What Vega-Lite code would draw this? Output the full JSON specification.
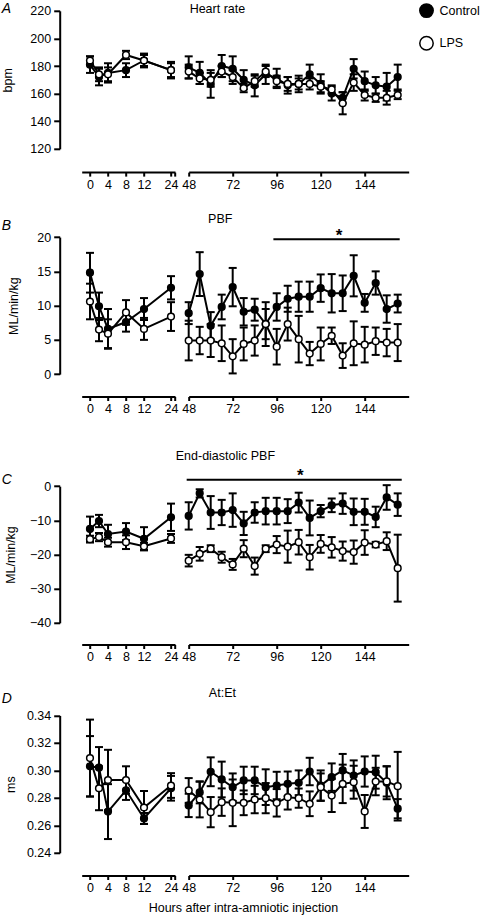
{
"$schema": "https://vega.github.io/schema/vega-lite/v6.json",
"padding": {"left": 1.7, "top": 1.8, "right": 0, "bottom": 0},
"bounds": "flush",
"align": "each",
"columns": 2,
"spacing": {"row": 60, "column": 13},
"datasets": {
"dA": [
{"t":0,"g":"Control","m":181,"e":6},{"t":2,"g":"Control","m":172,"e":6},{"t":4,"g":"Control","m":175,"e":7},{"t":8,"g":"Control","m":177,"e":5},{"t":12,"g":"Control","m":184,"e":5},{"t":24,"g":"Control","m":177,"e":6},
{"t":48,"g":"Control","m":179,"e":8},{"t":54,"g":"Control","m":175,"e":8},{"t":60,"g":"Control","m":167,"e":10},{"t":66,"g":"Control","m":180,"e":8},{"t":72,"g":"Control","m":178,"e":9},{"t":78,"g":"Control","m":170,"e":7},{"t":84,"g":"Control","m":166,"e":8},{"t":90,"g":"Control","m":174,"e":7},{"t":96,"g":"Control","m":171,"e":7},{"t":102,"g":"Control","m":166,"e":6},{"t":108,"g":"Control","m":167,"e":6},{"t":114,"g":"Control","m":174,"e":7},{"t":120,"g":"Control","m":167,"e":7},{"t":126,"g":"Control","m":160,"e":5},{"t":132,"g":"Control","m":157,"e":4},{"t":138,"g":"Control","m":178,"e":7},{"t":144,"g":"Control","m":169,"e":7},{"t":150,"g":"Control","m":166,"e":6},{"t":156,"g":"Control","m":165,"e":10},{"t":162,"g":"Control","m":172,"e":9},
{"t":0,"g":"LPS","m":184,"e":3},{"t":2,"g":"LPS","m":174,"e":5},{"t":4,"g":"LPS","m":174,"e":5},{"t":8,"g":"LPS","m":188,"e":3},{"t":12,"g":"LPS","m":184,"e":4},{"t":24,"g":"LPS","m":177,"e":5},
{"t":48,"g":"LPS","m":176,"e":5},{"t":54,"g":"LPS","m":171,"e":4},{"t":60,"g":"LPS","m":170,"e":5},{"t":66,"g":"LPS","m":176,"e":4},{"t":72,"g":"LPS","m":172,"e":5},{"t":78,"g":"LPS","m":164,"e":3},{"t":84,"g":"LPS","m":169,"e":4},{"t":90,"g":"LPS","m":176,"e":4},{"t":96,"g":"LPS","m":169,"e":4},{"t":102,"g":"LPS","m":167,"e":5},{"t":108,"g":"LPS","m":167,"e":4},{"t":114,"g":"LPS","m":167,"e":4},{"t":120,"g":"LPS","m":165,"e":4},{"t":126,"g":"LPS","m":163,"e":3},{"t":132,"g":"LPS","m":153,"e":8},{"t":138,"g":"LPS","m":168,"e":6},{"t":144,"g":"LPS","m":159,"e":4},{"t":150,"g":"LPS","m":157,"e":3},{"t":156,"g":"LPS","m":157,"e":5},{"t":162,"g":"LPS","m":159,"e":3}
],
"dB": [
{"t":0,"g":"Control","m":14.8,"e":2.9},{"t":2,"g":"Control","m":9.9,"e":2},{"t":4,"g":"Control","m":6.6,"e":2.9},{"t":8,"g":"Control","m":7.6,"e":1.4},{"t":12,"g":"Control","m":9.5,"e":1.6},{"t":24,"g":"Control","m":12.6,"e":1.7},
{"t":48,"g":"Control","m":8.9,"e":1.6},{"t":54,"g":"Control","m":14.6,"e":3.2},{"t":60,"g":"Control","m":7.05,"e":2},{"t":66,"g":"Control","m":9.8,"e":1.8},{"t":72,"g":"Control","m":12.7,"e":2.8},{"t":78,"g":"Control","m":9.1,"e":2},{"t":84,"g":"Control","m":9.4,"e":1.6},{"t":90,"g":"Control","m":7.3,"e":3.2},{"t":96,"g":"Control","m":9.8,"e":2},{"t":102,"g":"Control","m":11,"e":1.9},{"t":108,"g":"Control","m":11.3,"e":2.2},{"t":114,"g":"Control","m":11.3,"e":2.2},{"t":120,"g":"Control","m":12.55,"e":2},{"t":126,"g":"Control","m":11.8,"e":2.8},{"t":132,"g":"Control","m":11.8,"e":2.6},{"t":138,"g":"Control","m":14.35,"e":3},{"t":144,"g":"Control","m":10.4,"e":1.3},{"t":150,"g":"Control","m":13.3,"e":1.7},{"t":156,"g":"Control","m":9.5,"e":2},{"t":162,"g":"Control","m":10.3,"e":1.3},
{"t":0,"g":"LPS","m":10.6,"e":2.6},{"t":2,"g":"LPS","m":6.5,"e":1.7},{"t":4,"g":"LPS","m":5.9,"e":2.1},{"t":8,"g":"LPS","m":9.0,"e":1.8},{"t":12,"g":"LPS","m":6.6,"e":1.6},{"t":24,"g":"LPS","m":8.4,"e":2.1},
{"t":48,"g":"LPS","m":4.9,"e":2.9},{"t":54,"g":"LPS","m":4.9,"e":2},{"t":60,"g":"LPS","m":4.9,"e":2.4},{"t":66,"g":"LPS","m":4.5,"e":2.6},{"t":72,"g":"LPS","m":2.6,"e":2.5},{"t":78,"g":"LPS","m":4.4,"e":2.4},{"t":84,"g":"LPS","m":4.9,"e":2.2},{"t":90,"g":"LPS","m":7.3,"e":2.2},{"t":96,"g":"LPS","m":4.0,"e":2.6},{"t":102,"g":"LPS","m":7.3,"e":2.4},{"t":108,"g":"LPS","m":5.1,"e":3.4},{"t":114,"g":"LPS","m":3.0,"e":1.7},{"t":120,"g":"LPS","m":4.4,"e":2.4},{"t":126,"g":"LPS","m":5.6,"e":1.2},{"t":132,"g":"LPS","m":2.7,"e":1.8},{"t":138,"g":"LPS","m":4.5,"e":3.2},{"t":144,"g":"LPS","m":4.3,"e":2.6},{"t":150,"g":"LPS","m":4.8,"e":2},{"t":156,"g":"LPS","m":4.6,"e":2},{"t":162,"g":"LPS","m":4.6,"e":2.7}
],
"dC": [
{"t":0,"g":"Control","m":-12.5,"e":3.6},{"t":2,"g":"Control","m":-10.2,"e":1.8},{"t":4,"g":"Control","m":-14.0,"e":2.7},{"t":8,"g":"Control","m":-13.3,"e":2.5},{"t":12,"g":"Control","m":-15.4,"e":3.4},{"t":24,"g":"Control","m":-9.1,"e":4},
{"t":48,"g":"Control","m":-8.7,"e":4},{"t":54,"g":"Control","m":-2.1,"e":1.2},{"t":60,"g":"Control","m":-7.7,"e":4.8},{"t":66,"g":"Control","m":-7.7,"e":3.7},{"t":72,"g":"Control","m":-7.0,"e":4.9},{"t":78,"g":"Control","m":-10.9,"e":3.4},{"t":84,"g":"Control","m":-7.7,"e":3},{"t":90,"g":"Control","m":-7.3,"e":3.9},{"t":96,"g":"Control","m":-7.3,"e":3.9},{"t":102,"g":"Control","m":-7.3,"e":3.5},{"t":108,"g":"Control","m":-4.8,"e":2.9},{"t":114,"g":"Control","m":-9.3,"e":5.1},{"t":120,"g":"Control","m":-7.3,"e":1.8},{"t":126,"g":"Control","m":-5.6,"e":2},{"t":132,"g":"Control","m":-5.1,"e":3},{"t":138,"g":"Control","m":-7.5,"e":3.9},{"t":144,"g":"Control","m":-7.5,"e":3.8},{"t":150,"g":"Control","m":-9.0,"e":3},{"t":156,"g":"Control","m":-3.3,"e":3.6},{"t":162,"g":"Control","m":-5.4,"e":3.3},
{"t":0,"g":"LPS","m":-15.5,"e":1},{"t":2,"g":"LPS","m":-14.9,"e":1.2},{"t":4,"g":"LPS","m":-16.4,"e":1.3},{"t":8,"g":"LPS","m":-16.4,"e":2},{"t":12,"g":"LPS","m":-17.6,"e":1},{"t":24,"g":"LPS","m":-15.3,"e":1.3},
{"t":48,"g":"LPS","m":-21.8,"e":1.7},{"t":54,"g":"LPS","m":-19.8,"e":2},{"t":60,"g":"LPS","m":-18.3,"e":1},{"t":66,"g":"LPS","m":-20.8,"e":1.6},{"t":72,"g":"LPS","m":-22.9,"e":1.6},{"t":78,"g":"LPS","m":-18.3,"e":2.5},{"t":84,"g":"LPS","m":-23.4,"e":2.5},{"t":90,"g":"LPS","m":-18.3,"e":1},{"t":96,"g":"LPS","m":-17.1,"e":2.5},{"t":102,"g":"LPS","m":-17.7,"e":4.7},{"t":108,"g":"LPS","m":-16.4,"e":3.6},{"t":114,"g":"LPS","m":-20.8,"e":3.6},{"t":120,"g":"LPS","m":-16.9,"e":2.6},{"t":126,"g":"LPS","m":-17.9,"e":3},{"t":132,"g":"LPS","m":-19.0,"e":2.8},{"t":138,"g":"LPS","m":-19.3,"e":3.4},{"t":144,"g":"LPS","m":-16.5,"e":3.6},{"t":150,"g":"LPS","m":-17.1,"e":0.8},{"t":156,"g":"LPS","m":-16.1,"e":2.6},{"t":162,"g":"LPS","m":-24.0,"e":9.8}
],
"dD": [
{"t":0,"g":"Control","m":0.303,"e":0.022},{"t":2,"g":"Control","m":0.302,"e":0.015},{"t":4,"g":"Control","m":0.270,"e":0.020},{"t":8,"g":"Control","m":0.2855,"e":0.007},{"t":12,"g":"Control","m":0.265,"e":0.004},{"t":24,"g":"Control","m":0.287,"e":0.009},
{"t":48,"g":"Control","m":0.2745,"e":0.0085},{"t":54,"g":"Control","m":0.284,"e":0.008},{"t":60,"g":"Control","m":0.299,"e":0.0105},{"t":66,"g":"Control","m":0.2934,"e":0.013},{"t":72,"g":"Control","m":0.2878,"e":0.01},{"t":78,"g":"Control","m":0.2927,"e":0.01},{"t":84,"g":"Control","m":0.2927,"e":0.01},{"t":90,"g":"Control","m":0.2878,"e":0.013},{"t":96,"g":"Control","m":0.289,"e":0.01},{"t":102,"g":"Control","m":0.2902,"e":0.009},{"t":108,"g":"Control","m":0.291,"e":0.009},{"t":114,"g":"Control","m":0.2992,"e":0.01},{"t":120,"g":"Control","m":0.289,"e":0.011},{"t":126,"g":"Control","m":0.2951,"e":0.01},{"t":132,"g":"Control","m":0.300,"e":0.012},{"t":138,"g":"Control","m":0.2963,"e":0.011},{"t":144,"g":"Control","m":0.2992,"e":0.011},{"t":150,"g":"Control","m":0.2987,"e":0.012},{"t":156,"g":"Control","m":0.291,"e":0.012},{"t":162,"g":"Control","m":0.2721,"e":0.007},
{"t":0,"g":"LPS","m":0.309,"e":0.028},{"t":2,"g":"LPS","m":0.287,"e":0.016},{"t":4,"g":"LPS","m":0.293,"e":0.022},{"t":8,"g":"LPS","m":0.293,"e":0.010},{"t":12,"g":"LPS","m":0.273,"e":0.012},{"t":24,"g":"LPS","m":0.289,"e":0.009},
{"t":48,"g":"LPS","m":0.2854,"e":0.009},{"t":54,"g":"LPS","m":0.2788,"e":0.013},{"t":60,"g":"LPS","m":0.2696,"e":0.011},{"t":66,"g":"LPS","m":0.2769,"e":0.01},{"t":72,"g":"LPS","m":0.2764,"e":0.017},{"t":78,"g":"LPS","m":0.2764,"e":0.009},{"t":84,"g":"LPS","m":0.2788,"e":0.01},{"t":90,"g":"LPS","m":0.2798,"e":0.011},{"t":96,"g":"LPS","m":0.2764,"e":0.01},{"t":102,"g":"LPS","m":0.2805,"e":0.009},{"t":108,"g":"LPS","m":0.2798,"e":0.007},{"t":114,"g":"LPS","m":0.2757,"e":0.009},{"t":120,"g":"LPS","m":0.2878,"e":0.01},{"t":126,"g":"LPS","m":0.2817,"e":0.012},{"t":132,"g":"LPS","m":0.2902,"e":0.014},{"t":138,"g":"LPS","m":0.2914,"e":0.012},{"t":144,"g":"LPS","m":0.2701,"e":0.012},{"t":150,"g":"LPS","m":0.2919,"e":0.01},{"t":156,"g":"LPS","m":0.292,"e":0.011},{"t":162,"g":"LPS","m":0.2885,"e":0.025}
],
"sig": [
{"p":"B","x1":94.2,"x2":163.1,"y":19.7,"sx":130,"sy":19.5,"s":"*"},
{"p":"C","x1":46.9,"x2":164.2,"y":1.9,"sx":108.9,"sy":1.4,"s":"*"}
]
},
"concat": [
{
"width": 93.3, "height": 138,
"title": {"text": "A", "anchor": "start", "dx": -80, "offset": -11.15, "fontSize": 14, "fontStyle": "italic"},
"encoding": {
"x": {"field": "t", "type": "quantitative", "scale": {"domain": [-1.84, 12, 24, 25.8], "range": [0, 62.3, 89.3, 93.3], "nice": false, "zero": false}, "axis": {"values": [0, 4, 8, 12, 24, 25.8], "labelExpr": "datum.value > 25 ? '' : datum.label", "offset": 23.3, "title": null}},
"y": {"field": "m", "type": "quantitative", "scale": {"domain": [120, 220], "range": [138, 0], "nice": false, "zero": false}, "axis": {"values": [120, 140, 160, 180, 200, 220], "title": "bpm", "titlePadding": 15}}
},
"layer": [
{"data": {"name": "dA"}, "transform": [{"filter": "datum.t < 30"}], "mark": {"type": "errorbar", "ticks": {"thickness": 2, "opacity": 1, "color": "black"}, "rule": {"strokeWidth": 2, "opacity": 1, "color": "black"}, "size": 8, "thickness": 2, "color": "black", "opacity": 1}, "encoding": {"yError": {"field": "e"}}},
{"data": {"name": "dA"}, "transform": [{"filter": "datum.t < 30"}], "mark": {"type": "line", "color": "black", "strokeWidth": 2}, "encoding": {"detail": {"field": "g"}}},
{"data": {"name": "dA"}, "transform": [{"filter": "datum.t < 30"}], "mark": {"type": "point", "shape": "circle", "size": 45, "stroke": "black", "strokeWidth": 1.5, "opacity": 1}, "encoding": {"fill": {"field": "g", "type": "nominal", "scale": {"domain": ["Control", "LPS"], "range": ["black", "white"]}, "legend": {"title": null, "orient": "none", "legendX": 337.3, "legendY": -7.7}}}}
]
},
{
"width": 220, "height": 138,
"title": {"text": "Heart rate", "anchor": "middle", "dx": -81.3, "offset": -4.6},
"encoding": {
"x": {"field": "t", "type": "quantitative", "scale": {"domain": [48, 168], "nice": false, "zero": false}, "axis": {"values": [48, 72, 96, 120, 144], "offset": 23.3, "title": null}},
"y": {"field": "m", "type": "quantitative", "scale": {"domain": [120, 220], "range": [138, 0], "nice": false, "zero": false}, "axis": null}
},
"layer": [
{"data": {"name": "dA"}, "transform": [{"filter": "datum.t > 30"}], "mark": {"type": "errorbar", "ticks": {"thickness": 2, "opacity": 1, "color": "black"}, "rule": {"strokeWidth": 2, "opacity": 1, "color": "black"}, "size": 8, "thickness": 2, "color": "black", "opacity": 1}, "encoding": {"yError": {"field": "e"}}},
{"data": {"name": "dA"}, "transform": [{"filter": "datum.t > 30"}], "mark": {"type": "line", "color": "black", "strokeWidth": 2}, "encoding": {"detail": {"field": "g"}}},
{"data": {"name": "dA"}, "transform": [{"filter": "datum.t > 30"}], "mark": {"type": "point", "shape": "circle", "size": 45, "stroke": "black", "strokeWidth": 1.5, "opacity": 1}, "encoding": {"fill": {"field": "g", "type": "nominal", "scale": {"domain": ["Control", "LPS"], "range": ["black", "white"]}, "legend": {"title": null, "orient": "none", "legendX": 337.3, "legendY": -7.7}}}}
]
},
{
"width": 93.3, "height": 165.3,
"title": {"text": "B", "anchor": "start", "dx": -80, "offset": -23.9, "fontSize": 14, "fontStyle": "italic"},
"encoding": {
"x": {"field": "t", "type": "quantitative", "scale": {"domain": [-1.84, 12, 24, 25.8], "range": [0, 62.3, 89.3, 93.3], "nice": false, "zero": false}, "axis": {"values": [0, 4, 8, 12, 24, 25.8], "labelExpr": "datum.value > 25 ? '' : datum.label", "offset": 22.4, "title": null}},
"y": {"field": "m", "type": "quantitative", "scale": {"domain": [0, 20], "range": [165.3, 28.3], "nice": false, "zero": false}, "axis": {"values": [0, 5, 10, 15, 20], "title": "ML/min/kg", "titlePadding": 16}}
},
"layer": [
{"data": {"name": "dB"}, "transform": [{"filter": "datum.t < 30"}], "mark": {"type": "errorbar", "ticks": {"thickness": 2, "opacity": 1, "color": "black"}, "rule": {"strokeWidth": 2, "opacity": 1, "color": "black"}, "size": 8, "thickness": 2, "color": "black", "opacity": 1}, "encoding": {"yError": {"field": "e"}}},
{"data": {"name": "dB"}, "transform": [{"filter": "datum.t < 30"}], "mark": {"type": "line", "color": "black", "strokeWidth": 2}, "encoding": {"detail": {"field": "g"}}},
{"data": {"name": "dB"}, "transform": [{"filter": "datum.t < 30"}], "mark": {"type": "point", "shape": "circle", "size": 45, "stroke": "black", "strokeWidth": 1.5, "opacity": 1}, "encoding": {"fill": {"field": "g", "type": "nominal", "scale": {"domain": ["Control", "LPS"], "range": ["black", "white"]}, "legend": {"title": null, "orient": "none", "legendX": 337.3, "legendY": -7.7}}}}
]
},
{
"width": 220, "height": 165.3,
"title": {"text": "PBF", "anchor": "middle", "dx": -78.5, "offset": -16.3},
"encoding": {
"x": {"field": "t", "type": "quantitative", "scale": {"domain": [48, 168], "nice": false, "zero": false}, "axis": {"values": [48, 72, 96, 120, 144], "offset": 22.4, "title": null}},
"y": {"field": "m", "type": "quantitative", "scale": {"domain": [0, 20], "range": [165.3, 28.3], "nice": false, "zero": false}, "axis": null}
},
"layer": [
{"data": {"name": "dB"}, "transform": [{"filter": "datum.t > 30"}], "mark": {"type": "errorbar", "ticks": {"thickness": 2, "opacity": 1, "color": "black"}, "rule": {"strokeWidth": 2, "opacity": 1, "color": "black"}, "size": 8, "thickness": 2, "color": "black", "opacity": 1}, "encoding": {"yError": {"field": "e"}}},
{"data": {"name": "dB"}, "transform": [{"filter": "datum.t > 30"}], "mark": {"type": "line", "color": "black", "strokeWidth": 2}, "encoding": {"detail": {"field": "g"}}},
{"data": {"name": "dB"}, "transform": [{"filter": "datum.t > 30"}], "mark": {"type": "point", "shape": "circle", "size": 45, "stroke": "black", "strokeWidth": 1.5, "opacity": 1}, "encoding": {"fill": {"field": "g", "type": "nominal", "scale": {"domain": ["Control", "LPS"], "range": ["black", "white"]}, "legend": {"title": null, "orient": "none", "legendX": 337.3, "legendY": -7.7}}}},
{"data": {"name": "sig"}, "transform": [{"filter": "datum.p == 'B'"}], "mark": {"type": "rule", "color": "black", "strokeWidth": 2}, "encoding": {"x": {"field": "x1", "type": "quantitative"}, "x2": {"field": "x2"}, "y": {"field": "y", "type": "quantitative"}}},
{"data": {"name": "sig"}, "transform": [{"filter": "datum.p == 'B'"}], "mark": {"type": "text", "fontSize": 17, "fontWeight": "bold", "baseline": "alphabetic", "color": "black"}, "encoding": {"x": {"field": "sx", "type": "quantitative"}, "y": {"field": "sy", "type": "quantitative"}, "text": {"field": "s"}}}
]
},
{
"width": 93.3, "height": 188,
"title": {"text": "C", "anchor": "start", "dx": -80, "offset": -51.9, "fontSize": 14, "fontStyle": "italic"},
"encoding": {
"x": {"field": "t", "type": "quantitative", "scale": {"domain": [-1.84, 12, 24, 25.8], "range": [0, 62.3, 89.3, 93.3], "nice": false, "zero": false}, "axis": {"values": [0, 4, 8, 12, 24, 25.8], "labelExpr": "datum.value > 25 ? '' : datum.label", "offset": 21.7, "title": null}},
"y": {"field": "m", "type": "quantitative", "scale": {"domain": [-40, 0], "range": [188, 51.4], "nice": false, "zero": false}, "axis": {"values": [-40, -30, -20, -10, 0], "title": "ML/min/kg", "titlePadding": 12}}
},
"layer": [
{"data": {"name": "dC"}, "transform": [{"filter": "datum.t < 30"}], "mark": {"type": "errorbar", "ticks": {"thickness": 2, "opacity": 1, "color": "black"}, "rule": {"strokeWidth": 2, "opacity": 1, "color": "black"}, "size": 8, "thickness": 2, "color": "black", "opacity": 1}, "encoding": {"yError": {"field": "e"}}},
{"data": {"name": "dC"}, "transform": [{"filter": "datum.t < 30"}], "mark": {"type": "line", "color": "black", "strokeWidth": 2}, "encoding": {"detail": {"field": "g"}}},
{"data": {"name": "dC"}, "transform": [{"filter": "datum.t < 30"}], "mark": {"type": "point", "shape": "circle", "size": 45, "stroke": "black", "strokeWidth": 1.5, "opacity": 1}, "encoding": {"fill": {"field": "g", "type": "nominal", "scale": {"domain": ["Control", "LPS"], "range": ["black", "white"]}, "legend": {"title": null, "orient": "none", "legendX": 337.3, "legendY": -7.7}}}}
]
},
{
"width": 220, "height": 188,
"title": {"text": "End-diastolic PBF", "anchor": "middle", "dx": -73.3, "offset": -27.3},
"encoding": {
"x": {"field": "t", "type": "quantitative", "scale": {"domain": [48, 168], "nice": false, "zero": false}, "axis": {"values": [48, 72, 96, 120, 144], "offset": 21.7, "title": null}},
"y": {"field": "m", "type": "quantitative", "scale": {"domain": [-40, 0], "range": [188, 51.4], "nice": false, "zero": false}, "axis": null}
},
"layer": [
{"data": {"name": "dC"}, "transform": [{"filter": "datum.t > 30"}], "mark": {"type": "errorbar", "ticks": {"thickness": 2, "opacity": 1, "color": "black"}, "rule": {"strokeWidth": 2, "opacity": 1, "color": "black"}, "size": 8, "thickness": 2, "color": "black", "opacity": 1}, "encoding": {"yError": {"field": "e"}}},
{"data": {"name": "dC"}, "transform": [{"filter": "datum.t > 30"}], "mark": {"type": "line", "color": "black", "strokeWidth": 2}, "encoding": {"detail": {"field": "g"}}},
{"data": {"name": "dC"}, "transform": [{"filter": "datum.t > 30"}], "mark": {"type": "point", "shape": "circle", "size": 45, "stroke": "black", "strokeWidth": 1.5, "opacity": 1}, "encoding": {"fill": {"field": "g", "type": "nominal", "scale": {"domain": ["Control", "LPS"], "range": ["black", "white"]}, "legend": {"title": null, "orient": "none", "legendX": 337.3, "legendY": -7.7}}}},
{"data": {"name": "sig"}, "transform": [{"filter": "datum.p == 'C'"}], "mark": {"type": "rule", "color": "black", "strokeWidth": 2}, "encoding": {"x": {"field": "x1", "type": "quantitative"}, "x2": {"field": "x2"}, "y": {"field": "y", "type": "quantitative"}}},
{"data": {"name": "sig"}, "transform": [{"filter": "datum.p == 'C'"}], "mark": {"type": "text", "fontSize": 17, "fontWeight": "bold", "baseline": "alphabetic", "color": "black"}, "encoding": {"x": {"field": "sx", "type": "quantitative"}, "y": {"field": "sy", "type": "quantitative"}, "text": {"field": "s"}}}
]
},
{
"width": 93.3, "height": 170,
"title": {"text": "D", "anchor": "start", "dx": -80, "offset": -23.3, "fontSize": 14, "fontStyle": "italic"},
"encoding": {
"x": {"field": "t", "type": "quantitative", "scale": {"domain": [-1.84, 12, 24, 25.8], "range": [0, 62.3, 89.3, 93.3], "nice": false, "zero": false}, "axis": {"values": [0, 4, 8, 12, 24, 25.8], "labelExpr": "datum.value > 25 ? '' : datum.label", "offset": 22.7, "title": null}},
"y": {"field": "m", "type": "quantitative", "scale": {"domain": [0.24, 0.34], "range": [170, 32.7], "nice": false, "zero": false}, "axis": {"values": [0.24, 0.26, 0.28, 0.30, 0.32, 0.34], "format": ".2f", "title": "ms", "titlePadding": 9}}
},
"layer": [
{"data": {"name": "dD"}, "transform": [{"filter": "datum.t < 30"}], "mark": {"type": "errorbar", "ticks": {"thickness": 2, "opacity": 1, "color": "black"}, "rule": {"strokeWidth": 2, "opacity": 1, "color": "black"}, "size": 8, "thickness": 2, "color": "black", "opacity": 1}, "encoding": {"yError": {"field": "e"}}},
{"data": {"name": "dD"}, "transform": [{"filter": "datum.t < 30"}], "mark": {"type": "line", "color": "black", "strokeWidth": 2}, "encoding": {"detail": {"field": "g"}}},
{"data": {"name": "dD"}, "transform": [{"filter": "datum.t < 30"}], "mark": {"type": "point", "shape": "circle", "size": 45, "stroke": "black", "strokeWidth": 1.5, "opacity": 1}, "encoding": {"fill": {"field": "g", "type": "nominal", "scale": {"domain": ["Control", "LPS"], "range": ["black", "white"]}, "legend": {"title": null, "orient": "none", "legendX": 337.3, "legendY": -7.7}}}}
]
},
{
"width": 220, "height": 170,
"title": {"text": "At:Et", "anchor": "middle", "dx": -76.3, "offset": -17},
"encoding": {
"x": {"field": "t", "type": "quantitative", "scale": {"domain": [48, 168], "nice": false, "zero": false}, "axis": {"values": [48, 72, 96, 120, 144], "offset": 22.7, "title": "Hours after intra-amniotic injection", "titleX": 54.2, "titlePadding": 7}},
"y": {"field": "m", "type": "quantitative", "scale": {"domain": [0.24, 0.34], "range": [170, 32.7], "nice": false, "zero": false}, "axis": null}
},
"layer": [
{"data": {"name": "dD"}, "transform": [{"filter": "datum.t > 30"}], "mark": {"type": "errorbar", "ticks": {"thickness": 2, "opacity": 1, "color": "black"}, "rule": {"strokeWidth": 2, "opacity": 1, "color": "black"}, "size": 8, "thickness": 2, "color": "black", "opacity": 1}, "encoding": {"yError": {"field": "e"}}},
{"data": {"name": "dD"}, "transform": [{"filter": "datum.t > 30"}], "mark": {"type": "line", "color": "black", "strokeWidth": 2}, "encoding": {"detail": {"field": "g"}}},
{"data": {"name": "dD"}, "transform": [{"filter": "datum.t > 30"}], "mark": {"type": "point", "shape": "circle", "size": 45, "stroke": "black", "strokeWidth": 1.5, "opacity": 1}, "encoding": {"fill": {"field": "g", "type": "nominal", "scale": {"domain": ["Control", "LPS"], "range": ["black", "white"]}, "legend": {"title": null, "orient": "none", "legendX": 337.3, "legendY": -7.7}}}}
]
}
],
"config": {
"font": "Liberation Sans",
"view": {"stroke": null},
"axis": {"grid": false, "domainColor": "black", "domainWidth": 2, "tickColor": "black", "tickWidth": 2, "labelColor": "black", "labelFontSize": 12.5, "labelFont": "Liberation Sans", "titleFont": "Liberation Sans", "titleFontSize": 12.5, "titleFontWeight": "normal", "titleColor": "black", "labelFlush": false},
"axisX": {"tickSize": 4, "labelPadding": 2.5},
"axisY": {"tickSize": 6, "labelPadding": 3, "offset": 22},
"title": {"font": "Liberation Sans", "fontSize": 12.5, "fontWeight": "normal", "color": "black", "frame": "group", "baseline": "bottom"},
"legend": {"labelFont": "Liberation Sans", "labelFontSize": 12.5, "labelColor": "black", "symbolSize": 180, "symbolStrokeWidth": 1.5, "symbolStrokeColor": "black", "symbolType": "circle", "labelOffset": 5.5, "rowPadding": 11.6}
}
}
